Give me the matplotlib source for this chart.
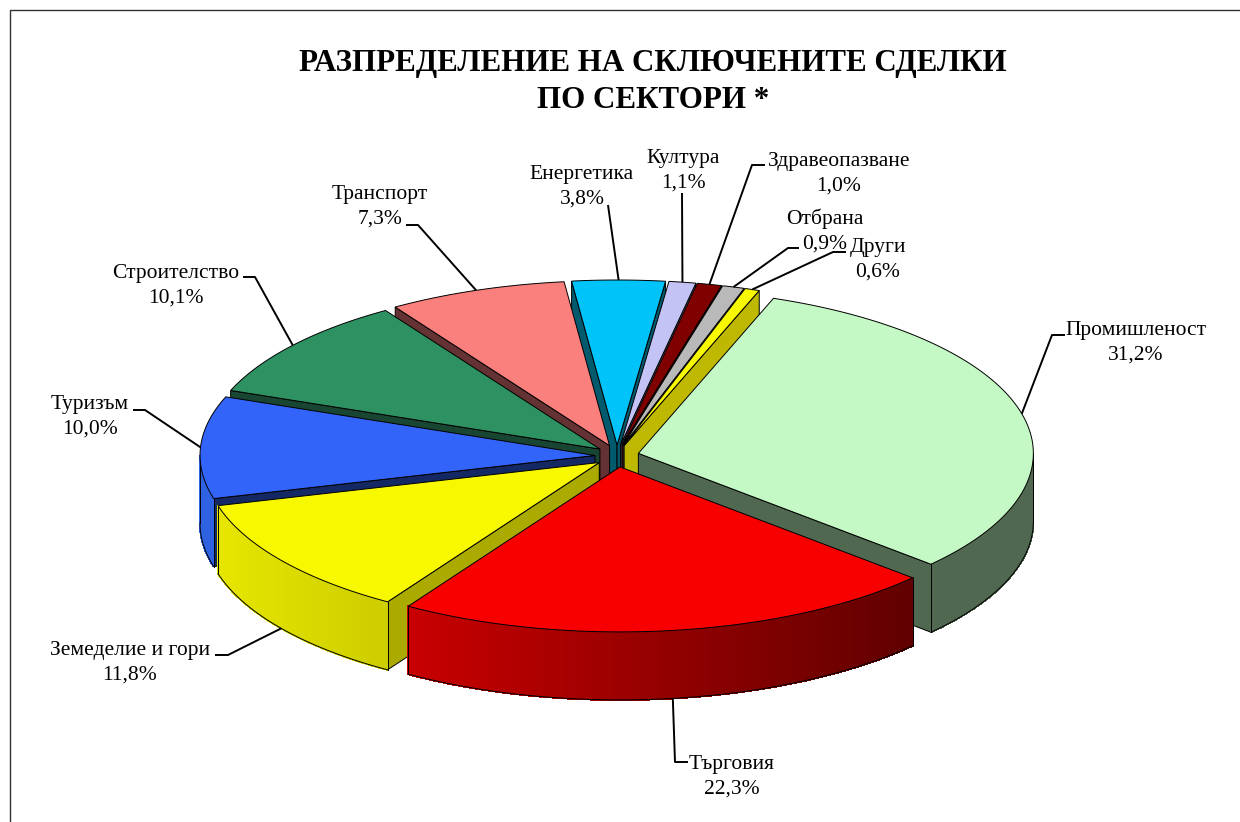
import numpy as np
import matplotlib
matplotlib.use("Agg")
import matplotlib.pyplot as plt
from matplotlib.patches import Polygon

plt.rcParams['font.family'] = ['Liberation Serif', 'DejaVu Serif']

title_lines = ["РАЗПРЕДЕЛЕНИЕ НА СКЛЮЧЕНИТЕ СДЕЛКИ", "ПО СЕКТОРИ *"]
sectors = ["Промишленост", "Търговия", "Земеделие и гори", "Туризъм", "Строителство",
           "Транспорт", "Енергетика", "Култура", "Здравеопазване", "Отбрана", "Други"]
shares = [31.2, 22.3, 11.8, 10.0, 10.1, 7.3, 3.8, 1.1, 1.0, 0.9, 0.6]

top_colors = ["#c4f8c4", "#f80000", "#f8f800", "#3264fa", "#2e9162", "#fa807d",
              "#00c3fa", "#c3c3f5", "#800000", "#b9b9b9", "#f8f800"]
cut_colors = ["#506850", "#7a0000", "#aaaa00", "#142864", "#194632", "#643232",
              "#005a6e", "#6e6e96", "#500000", "#707070", "#bfb800"]
wall_left = ["#506850", "#c80000", "#e6e600", "#2f62e0", "#1f6040", "#a05050",
             "#0080a0", "#8080a0", "#600000", "#808080", "#c0c000"]
wall_right = ["#506850", "#600000", "#cdcd00", "#2f62e0", "#1f6040", "#a05050",
              "#0080a0", "#8080a0", "#600000", "#808080", "#c0c000"]

label_xy = [(1136, 343), (732, 777), (130, 663), (90, 417), (176, 286), (380, 207),
            (582, 187), (683, 171), (839, 174), (825, 231), (878, 260)]
elbow = [(1052, 335), (675, 762), (228, 655), (145, 410), (255, 277), (418, 225),
         (608, 205), (682, 193), (752, 165), (788, 248), (833, 252)]
elbow_end = [(1065, 335), (688, 762), (215, 655), (133, 410), (243, 277), (406, 225),
             None, None, (765, 165), (799, 248), (846, 252)]

START = 20.0
CX, CY = 617.0, 456.0
RX, RY = 395.0, 165.0
EX, EY = 22.0, 11.0
DEPTH = 68.0

fig = plt.figure(figsize=(12.4, 8.22), dpi=100)
ax = fig.add_axes([0, 0, 1, 1])
ax.set_xlim(0, 1240)
ax.set_ylim(822, 0)
ax.axis("off")

ax.plot([9.5, 9.5, 1240], [822, 10.5, 10.5], color="#333333", lw=1.0)

total = sum(shares)
spans = [360 * s / total for s in shares]
a0s = START + np.concatenate(([0], np.cumsum(spans)[:-1]))
a1s = a0s + np.array(spans)
mids = (a0s + a1s) / 2


def rim(ox, oy, a):
    r = np.radians(a)
    return ox + RX * np.sin(r), oy - RY * np.cos(r)


def hexrgb(h):
    return np.array(matplotlib.colors.to_rgb(h))


order = np.argsort(-np.cos(np.radians(mids)))
z = 2
for i in order:
    a0, a1, m = a0s[i], a1s[i], mids[i]
    ox = CX + EX * np.sin(np.radians(m))
    oy = CY - EY * np.cos(np.radians(m))
    for a, sgn in ((a0, -1), (a1, 1)):
        vis = (np.sin(np.radians(a)) * sgn) > 0
        if vis:
            x, y = rim(ox, oy, a)
            ax.add_patch(Polygon([(ox, oy), (x, y), (x, y + DEPTH), (ox, oy + DEPTH)],
                                 closed=True, fc=cut_colors[i], ec="black", lw=0.7, zorder=z))
            z += 1
    n = max(int((a1 - a0) * 2), 2)
    t = np.linspace(a0, a1, n + 1)
    xs, ys = rim(ox, oy, t)
    x_lo, x_hi = xs.min(), xs.max()
    cl, cr = hexrgb(wall_left[i]), hexrgb(wall_right[i])
    outline = []
    for k in range(n):
        mid_a = np.mod((t[k] + t[k + 1]) / 2, 360)
        if 90 <= mid_a <= 270:
            f = ((xs[k] + xs[k + 1]) / 2 - x_lo) / max(x_hi - x_lo, 1)
            c = cl + (cr - cl) * f
            ax.add_patch(Polygon([(xs[k], ys[k]), (xs[k + 1], ys[k + 1]),
                                  (xs[k + 1], ys[k + 1] + DEPTH), (xs[k], ys[k] + DEPTH)],
                                 closed=True, fc=c, ec=c, lw=0.8, antialiased=False, zorder=z))
            outline.append(k)
    z += 1
    if outline:
        k0, k1 = outline[0], outline[-1] + 1
        ax.plot(xs[k0:k1 + 1], ys[k0:k1 + 1] + DEPTH, color="black", lw=0.7, zorder=z)
        ax.plot([xs[k0], xs[k0]], [ys[k0], ys[k0] + DEPTH], color="black", lw=0.7, zorder=z)
        ax.plot([xs[k1], xs[k1]], [ys[k1], ys[k1] + DEPTH], color="black", lw=0.7, zorder=z)
        z += 1
    top = [(ox, oy)] + list(zip(xs, ys))
    ax.add_patch(Polygon(top, closed=True, fc=top_colors[i], ec="black", lw=0.7, zorder=z))
    z += 1

for i, name in enumerate(sectors):
    m = mids[i]
    ox = CX + EX * np.sin(np.radians(m))
    oy = CY - EY * np.cos(np.radians(m))
    ax_, ay_ = rim(ox, oy, m)
    if 90 < np.mod(m, 360) < 270:
        ay_ += DEPTH
    pts = [(ax_, ay_), elbow[i]]
    if elbow_end[i] is not None:
        pts.append(elbow_end[i])
    ax.plot(*zip(*pts), color="black", lw=1.4, zorder=500, solid_capstyle="butt")
    lx, ly = label_xy[i]
    pct = f"{shares[i]:.1f}%".replace(".", ",")
    ax.text(lx, ly, f"{name}\n{pct}", ha="center", va="center",
            fontsize=15.5, color="black", linespacing=1.42, zorder=600)

ax.text(653, 64, title_lines[0], ha="center", va="center", fontsize=22.3, fontweight="bold")
ax.text(653, 100, title_lines[1], ha="center", va="center", fontsize=22.3, fontweight="bold")

fig.savefig("out.png", dpi=100)
